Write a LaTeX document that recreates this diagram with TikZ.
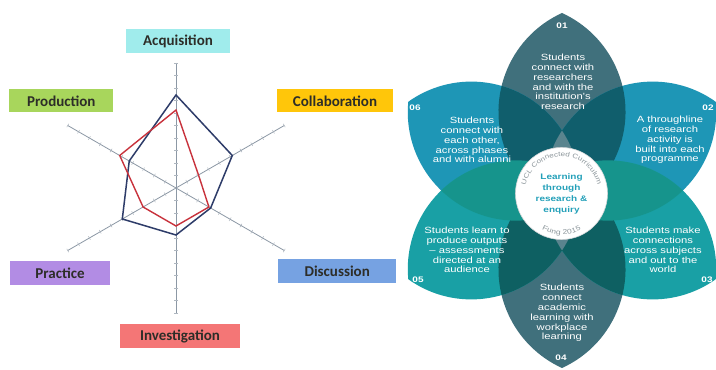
\documentclass[tikz,border=0pt]{standalone}
\usepackage{fontspec}
\usetikzlibrary{calc,decorations.text}
\newfontfamily\calfont{Carlito}
\newfontfamily\pf{Liberation Sans}[FakeStretch=1.25]
\definecolor{acqcol}{RGB}{160,236,236}
\definecolor{prodcol}{RGB}{168,214,92}
\definecolor{collcol}{RGB}{255,198,10}
\definecolor{praccol}{RGB}{178,140,228}
\definecolor{disccol}{RGB}{118,162,226}
\definecolor{invcol}{RGB}{244,118,118}
\definecolor{lbltext}{RGB}{45,45,40}
\definecolor{axiscol}{RGB}{140,152,165}
\definecolor{navy}{RGB}{46,60,105}
\definecolor{redline}{RGB}{200,50,60}
\definecolor{slate}{RGB}{64,112,124}
\definecolor{bluepet}{RGB}{30,150,182}
\definecolor{greenpet}{RGB}{25,160,165}
\definecolor{ovsb}{RGB}{16,94,108}
\definecolor{ovsg}{RGB}{14,96,98}
\definecolor{ovbg}{RGB}{22,148,140}
\definecolor{tri}{RGB}{90,132,142}
\definecolor{ringgray}{RGB}{140,150,155}
\definecolor{centertext}{RGB}{35,160,185}
\newcommand\petalpath[1]{($(fc)+(#1:177.5pt)$) arc[start angle=#1+24.5, end angle=#1+155.5, radius=108.5pt] arc[start angle=#1+204.5, end angle=#1+335.5, radius=108.5pt] -- cycle}
\tikzset{
  lbl/.style={inner sep=0pt, text=lbltext, font=\calfont\bfseries\fontsize{15}{17}\selectfont},
  axisline/.style={draw=axiscol, line width=0.8pt},
  tickline/.style={draw=axiscol!70, line width=0.5pt},
  bluepoly/.style={draw=navy, line width=1.5pt, line join=miter},
  redpoly/.style={draw=redline, line width=1.4pt, line join=miter},
  pettext/.style={text=white, align=center, inner sep=0pt, font=\pf\fontsize{9}{9.8}\selectfont},
  petnum/.style={text=white, inner sep=0pt, font=\pf\bfseries\fontsize{8}{8}\selectfont},
}
\begin{document}
\begin{tikzpicture}[x=1pt,y=1pt]
\useasboundingbox (0,0) rectangle (716,370);
\fill[white] (0,0) rectangle (716,370);
% ---------------- radar chart ----------------
\coordinate (rc) at (176,182);
\foreach \a in {90,30,-30,-90,210,150}{
  \coordinate (ax\a) at ($(rc)+(\a:125pt)$);
}
\draw[axisline] (ax90) -- (ax-90);
\draw[axisline] (ax30) -- (ax210);
\draw[axisline] (ax150) -- (ax-30);
\foreach \a in {90,30,-30,-90,210,150}{
  \foreach \k in {1,...,10}{
    \draw[tickline] ($(rc)+(\a:\k*12.5pt)+(\a+90:2pt)$) -- ($(rc)+(\a:\k*12.5pt)+(\a-90:2pt)$);
  }
}
\begin{scope}[shift={(rc)}]
\draw[bluepoly] (90:93pt) -- (30:65pt) -- (-30:40pt) -- (-90:47pt) -- (210:62pt) -- (150:54pt) -- cycle;
\draw[redpoly] (90:78pt) -- (30:26pt) -- (-30:38pt) -- (-90:38pt) -- (210:38pt) -- (150:65pt) -- cycle;
\end{scope}
\node[lbl, fill=acqcol, minimum width=104pt, minimum height=24pt] (acq) at (178,328.7) {Acquisition};
\node[lbl, fill=prodcol, minimum width=104pt, minimum height=23pt] (prod) at (61.3,269.2) {Production};
\node[lbl, fill=collcol, minimum width=116.6pt, minimum height=23pt] (coll) at (335,269.2) {Collaboration};
\node[lbl, fill=praccol, minimum width=100pt, minimum height=24.3pt] (prac) at (60,97.2) {Practice};
\node[lbl, fill=disccol, minimum width=117.7pt, minimum height=23.4pt] (disc) at (337.2,99) {Discussion};
\node[lbl, fill=invcol, minimum width=120pt, minimum height=24.3pt] (inv) at (180,33.8) {Investigation};
% ---------------- flower ----------------
\coordinate (fc) at (562,179.5);
\coordinate (cc) at (561.5,176.5);
\fill[slate] \petalpath{90};
\fill[slate] \petalpath{-90};
\fill[bluepet] \petalpath{150};
\fill[bluepet] \petalpath{30};
\fill[greenpet] \petalpath{210};
\fill[greenpet] \petalpath{-30};
\begin{scope}\clip \petalpath{90}; \fill[ovsb] \petalpath{150}; \fill[ovsb] \petalpath{30};\end{scope}
\begin{scope}\clip \petalpath{-90}; \fill[ovsg] \petalpath{210}; \fill[ovsg] \petalpath{-30};\end{scope}
\begin{scope}\clip \petalpath{150}; \fill[ovbg] \petalpath{210};\end{scope}
\begin{scope}\clip \petalpath{30}; \fill[ovbg] \petalpath{-30};\end{scope}
\begin{scope}\clip \petalpath{90}; \clip \petalpath{150}; \fill[tri] \petalpath{30};\end{scope}
\begin{scope}\clip \petalpath{-90}; \clip \petalpath{210}; \fill[tri] \petalpath{-30};\end{scope}
\node[circle, fill=white, draw=ringgray!40, line width=0.6pt, minimum size=92pt, inner sep=0pt] (hub) at (cc) {};
\path[decorate, decoration={text along path, text={|\pf\fontsize{6.5}{6.5}\selectfont|UCL Connected Curriculum}, text align=center, text color=ringgray}] ($(cc)+(182:37pt)$) arc[start angle=182, end angle=-2, radius=37pt];
\path[decorate, decoration={text along path, text={|\pf\fontsize{6.8}{6.8}\selectfont|Fung 2015}, text align=center, text color=ringgray}] ($(cc)+(234:41pt)$) arc[start angle=234, end angle=306, radius=41pt];
\node[align=center, inner sep=0pt, text=centertext, font=\pf\bfseries\fontsize{8}{11}\selectfont] (core) at (561.5,176) {Learning\\through\\research \&\\enquiry};
\node[pettext] (t01) at (563,288) {Students\\connect with\\researchers\\and with the\\institution's\\research};
\node[pettext] (t02) at (670,230) {A throughline\\of research\\activity is\\built into each\\programme};
\node[pettext] (t03) at (663,120) {Students make\\connections\\across subjects\\and out to the\\world};
\node[pettext] (t04) at (562,57) {Students\\connect\\academic\\learning with\\workplace\\learning};
\node[pettext] (t05) at (467,120) {Students learn to\\produce outputs\\– assessments\\directed at an\\audience};
\node[pettext] (t06) at (472,230) {Students\\connect with\\each other,\\across phases\\and with alumni};
\node[petnum] (n01) at (562,344) {01};
\node[petnum] (n02) at (708,262) {02};
\node[petnum] (n03) at (707,90) {03};
\node[petnum] (n04) at (561,12) {04};
\node[petnum] (n05) at (418,90) {05};
\node[petnum] (n06) at (415,262) {06};
\end{tikzpicture}
\end{document}
